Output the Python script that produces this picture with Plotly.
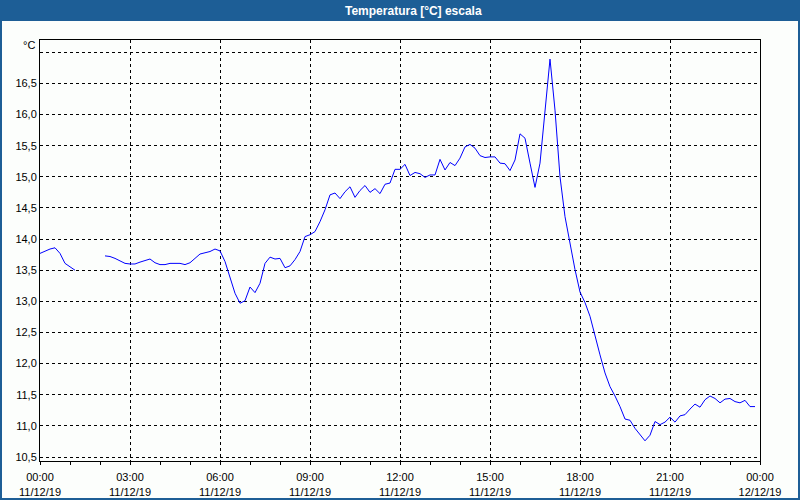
import pandas as pd
import plotly.graph_objects as go

# ---- data (10-minute readings, 11/12/19) ----
start_time = "2019-12-11 00:00"
interval = "10min"
temperature = [
    13.77, 13.81, 13.84, 13.86, 13.77, 13.61, 13.55, 13.50,
    None, None, None, None, None,
    13.73, 13.72, 13.69, 13.65, 13.61, 13.60, 13.60, 13.63, 13.66, 13.68,
    13.62, 13.59, 13.59, 13.61, 13.61, 13.61, 13.59, 13.62, 13.69, 13.76,
    13.78, 13.80, 13.84, 13.81, 13.64, 13.40, 13.13, 12.97, 13.01, 13.23,
    13.14, 13.29, 13.61, 13.71, 13.68, 13.69, 13.54, 13.57, 13.67, 13.80,
    14.04, 14.07, 14.12, 14.28, 14.47, 14.71, 14.74, 14.65, 14.76, 14.84,
    14.67, 14.78, 14.86, 14.75, 14.81, 14.73, 14.88, 14.90, 15.12, 15.12,
    15.20, 15.02, 15.07, 15.05, 14.99, 15.03, 15.03, 15.28, 15.11, 15.23,
    15.18, 15.30, 15.48, 15.52, 15.46, 15.34, 15.31, 15.32, 15.32, 15.22,
    15.21, 15.10, 15.27, 15.69, 15.62, 15.22, 14.83, 15.22, 16.02, 16.89,
    16.07, 15.00, 14.36, 13.93, 13.51, 13.15, 12.98, 12.76, 12.44, 12.14,
    11.85, 11.63, 11.48, 11.31, 11.11, 11.09, 10.96, 10.86, 10.76, 10.85,
    11.07, 11.02, 11.06, 11.14, 11.06, 11.16, 11.18, 11.27, 11.35, 11.30,
    11.42, 11.48, 11.44, 11.37, 11.43, 11.44, 11.39, 11.37, 11.41, 11.31,
    11.31,
]

x_tick_values = ["2019-12-11 00:00", "2019-12-11 03:00", "2019-12-11 06:00",
                 "2019-12-11 09:00", "2019-12-11 12:00", "2019-12-11 15:00",
                 "2019-12-11 18:00", "2019-12-11 21:00", "2019-12-12 00:00"]
x_tick_labels = ["00:00<br>11/12/19", "03:00<br>11/12/19", "06:00<br>11/12/19",
                 "09:00<br>11/12/19", "12:00<br>11/12/19", "15:00<br>11/12/19",
                 "18:00<br>11/12/19", "21:00<br>11/12/19", "00:00<br>12/12/19"]
y_tick_values = [10.5, 11.0, 11.5, 12.0, 12.5, 13.0, 13.5, 14.0, 14.5, 15.0, 15.5, 16.0, 16.5, 17.0]
y_tick_labels = ["10,5", "11,0", "11,5", "12,0", "12,5", "13,0", "13,5",
                 "14,0", "14,5", "15,0", "15,5", "16,0", "16,5", ""]

title_text = "Temperatura [°C] escala"
unit_text = "°C"

times = pd.date_range(start=start_time, periods=len(temperature), freq=interval)

# ---- layout geometry (pixels) ----
W, H = 800, 500
L, R, T, B = 40, 40, 40, 39
PW, PH = W - L - R, H - T - B


def px_x(p):
    return (p - L) / PW


def px_y(p):
    return (H - B - p) / PH


BLUE = "#1d5e96"
BG = "#fcfefc"
FONT = "Liberation Sans, Arial, sans-serif"

fig = go.Figure()
fig.add_trace(go.Scatter(
    x=times, y=temperature, mode="lines",
    line=dict(color="#0000ff", width=1),
    connectgaps=False, hoverinfo="skip", showlegend=False,
))

fig.update_layout(
    width=W, height=H,
    margin=dict(l=L, r=R, t=T, b=B, pad=0, autoexpand=False),
    paper_bgcolor=BLUE,
    plot_bgcolor=BG,
    font=dict(family=FONT, size=11, color="#000000"),
    showlegend=False,
    shapes=[
        dict(type="rect", xref="paper", yref="paper", layer="below",
             x0=px_x(2), x1=px_x(798), y0=px_y(498), y1=px_y(21),
             fillcolor=BG, line=dict(width=0)),
    ],
    annotations=[
        dict(text=title_text, xref="paper", yref="paper",
             x=px_x(413), y=px_y(10.5), xanchor="center", yanchor="middle",
             showarrow=False,
             font=dict(family=FONT, size=12, color="#ffffff", weight="bold")),
        dict(text=unit_text, xref="paper", yref="paper",
             x=px_x(37), y=px_y(45), xanchor="right", yanchor="middle",
             showarrow=False, font=dict(family=FONT, size=11, color="#000000")),
    ],
)

fig.update_xaxes(
    type="date", automargin=False,
    range=["2019-12-11 00:00", "2019-12-12 00:00"],
    tickmode="array", tickvals=x_tick_values, ticktext=x_tick_labels,
    ticks="outside", ticklen=3, tickcolor="#000000", tickwidth=1,
    ticklabelstandoff=3,
    showgrid=True, gridcolor="#000000", gridwidth=1, griddash="3px,3px",
    showline=True, linecolor="#000000", linewidth=1, mirror=True,
    zeroline=False,
    minor=dict(ticks="outside", ticklen=3, tickcolor="#000000",
               dtick=3600000, tick0="2019-12-11 00:00", showgrid=False),
    tickfont=dict(family=FONT, size=11, color="#000000"),
)

fig.update_yaxes(
    automargin=False,
    range=[10.436, 17.197],
    tickmode="array", tickvals=y_tick_values, ticktext=y_tick_labels,
    ticks="", showgrid=True, gridcolor="#000000", gridwidth=1, griddash="3px,3px",
    showline=True, linecolor="#000000", linewidth=1, mirror=True,
    zeroline=False,
    tickfont=dict(family=FONT, size=11, color="#000000"),
)

fig.write_html("out.html")
